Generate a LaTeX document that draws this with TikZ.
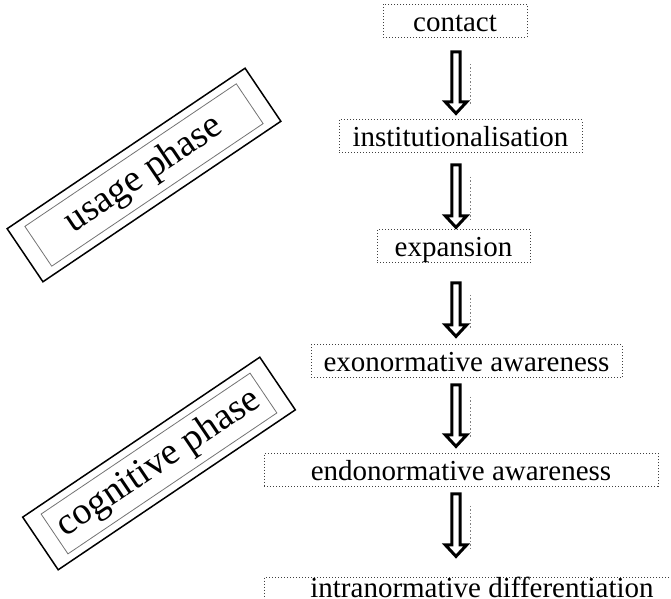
\documentclass[tikz,border=0pt]{standalone}
\usepackage{fontspec}
\setmainfont{Liberation Serif}
\usetikzlibrary{calc}
\tikzset{
  stagebox/.style={draw=black!75, densely dotted, line width=0.5pt, inner sep=0pt,
    text height=13.5pt, text depth=3pt, font=\fontsize{14.5}{17}\selectfont},
  phaseouter/.style={draw=black, line width=0.75pt, inner sep=0pt, rotate=34},
  phaseinner/.style={draw=black!55, line width=0.4pt, inner sep=0pt, rotate=34,
    font=\fontsize{19}{22}\selectfont},
  barrow/.style={draw=black, fill=white, line width=1.5pt, line join=miter},
  shadowline/.style={draw=black!50, densely dotted, line width=0.75pt}
}
\newcommand\blkarrow[2]{%
  \path[barrow] let \p1=(#1), \p2=(#2) in
    (\x1-2.1pt,\y1) -- (\x1+2.1pt,\y1) -- (\x1+2.1pt,\y2+6.5pt) -- (\x1+5.3pt,\y2+6.5pt)
    -- (\x1,\y2+0.8pt) -- (\x1-5.3pt,\y2+6.5pt) -- (\x1-2.1pt,\y2+6.5pt) -- cycle;
  \path[shadowline] let \p1=(#1), \p2=(#2) in
    (\x1+7.25pt,\y1-6pt) -- (\x1+7.25pt,\y2+4.5pt);
}
\begin{document}
\begin{tikzpicture}[x=0.5pt,y=-0.5pt]
\useasboundingbox (0,0) rectangle (671,599);
\clip (0,0) rectangle (671,599);
% stage boxes
\node[stagebox, minimum width=72pt, minimum height=16pt] (contact) at (455,21) {contact};
\node[stagebox, minimum width=121.5pt, minimum height=16.5pt] (inst) at (460.5,136.5) {institutionalisation};
\node[stagebox, minimum width=76.5pt, minimum height=16.5pt] (exp) at (453.5,246.5) {expansion};
\node[stagebox, minimum width=155.5pt, minimum height=16.5pt] (exo) at (466.5,361.5) {exonormative awareness};
\node[stagebox, minimum width=197pt, minimum height=16pt] (endo) at (461,470) {endonormative awareness};
\node[stagebox, text height=10pt, text depth=1pt, minimum width=218pt, minimum height=11pt, anchor=north] (intra) at (482,577) {intranormative differentiation};
% arrows
\coordinate (a1s) at (456,52);  \coordinate (a1e) at (456,115);
\coordinate (a2s) at (456,165); \coordinate (a2e) at (456,229);
\coordinate (a3s) at (456,283); \coordinate (a3e) at (456,338);
\coordinate (a4s) at (456,385); \coordinate (a4e) at (456,448);
\coordinate (a5s) at (456,494); \coordinate (a5e) at (456,558);
\blkarrow{a1s}{a1e}
\blkarrow{a2s}{a2e}
\blkarrow{a3s}{a3e}
\blkarrow{a4s}{a4e}
\blkarrow{a5s}{a5e}
% phase boxes
\node[phaseouter, minimum width=143.5pt, minimum height=32pt] (usageout) at (144,175) {};
\node[phaseinner, minimum width=127.5pt, minimum height=24pt] (usage) at (144,175) {usage phase};
\node[phaseouter, minimum width=143pt, minimum height=31.75pt] (cogout) at (159,463.5) {};
\node[phaseinner, minimum width=126pt, minimum height=24pt] (cog) at (159,463.5) {cognitive phase};
\end{tikzpicture}
\end{document}
